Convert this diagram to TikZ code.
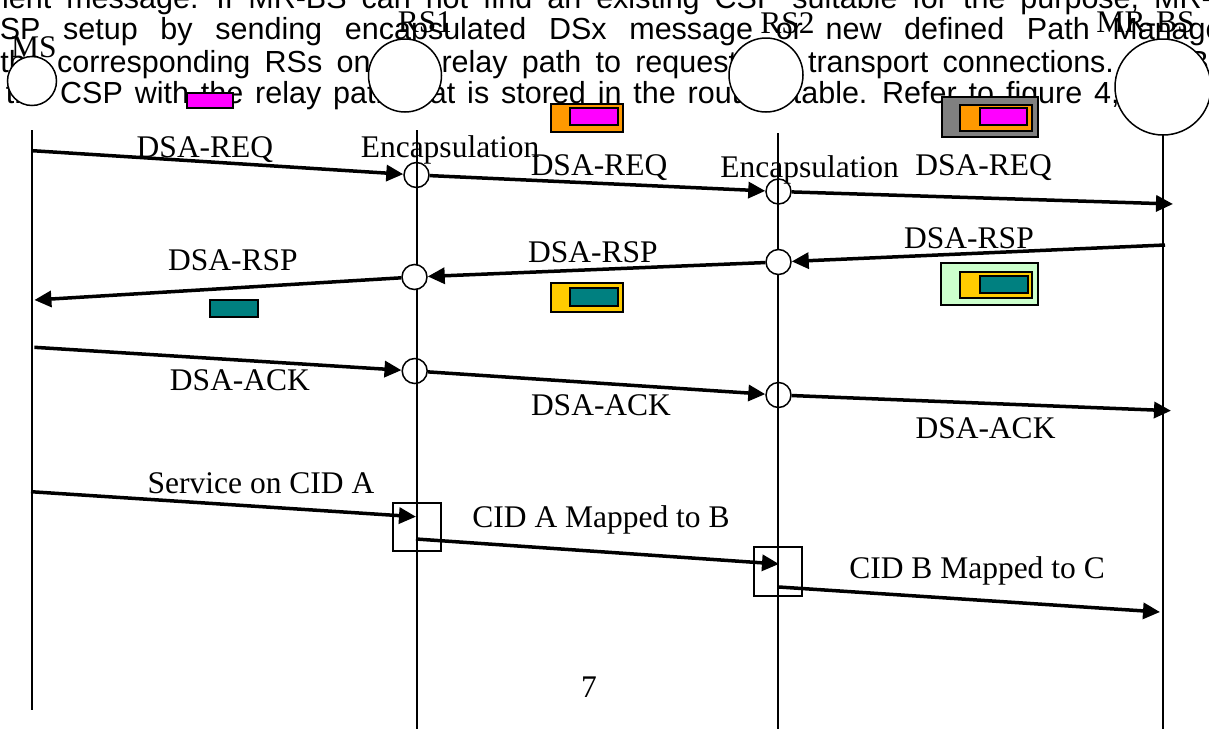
\documentclass[tikz,border=0pt]{standalone}
\usepackage{fontspec}
\setmainfont{Liberation Serif}
\newfontfamily\arialf{Liberation Sans}
\usetikzlibrary{arrows.meta}
\definecolor{pinkc}{HTML}{FF00FF}
\definecolor{orangec}{HTML}{FF9900}
\definecolor{grayc}{HTML}{808080}
\definecolor{tealc}{HTML}{008080}
\definecolor{yellowc}{HTML}{FFCC00}
\definecolor{greenc}{HTML}{CCFFCC}
\tikzset{
  lbl/.style={font=\fontsize{31.5}{36}\selectfont, inner sep=0pt, anchor=base},
  bgtext/.style={font=\arialf\fontsize{30.5}{36}\selectfont, inner sep=0pt, anchor=base west},
  life/.style={line width=1.5pt},
  msg/.style={line width=3.5pt, -{Triangle[length=17pt,width=16pt]}},
  bigc/.style={circle, draw, line width=1.5pt, fill=white, inner sep=0pt},
  smallc/.style={circle, draw, line width=1.5pt, minimum size=25pt, inner sep=0pt},
  cbox/.style={draw, line width=1.5pt, inner sep=0pt},
  mapbox/.style={draw, line width=1.2pt, inner sep=0pt, minimum width=48pt, minimum height=48pt},
}
\begin{document}
\begin{tikzpicture}[x=1pt,y=-1pt]
\useasboundingbox (0,0) rectangle (1209,729);
\clip (0,0) rectangle (1209,729);
% background document text
\node[bgtext] (t1) at (2,8) {\spaceskip=15pt\relax ient message. If MR-BS can not find an existing CSP suitable for the purpose, MR-BS};
\node[bgtext] (t2) at (-22.4,39.5) {\spaceskip=22.7pt\relax CSP setup by sending encapsulated DSx message or new defined Path Management};
\node[bgtext] (t3) at (0.3,72) {\spaceskip=14.3pt\relax the corresponding RSs on the relay path to request the transport connections. MR-BS};
\node[bgtext] (t4) at (5.7,103.5) {\spaceskip=11.9pt\relax the CSP with the relay path that is stored in the routing table. Refer to figure 4,};
% lifelines
\coordinate (msTop) at (32,130);  \coordinate (msBot) at (32,710);
\coordinate (rs1Top) at (417,130); \coordinate (rs1Bot) at (417,729);
\coordinate (rs2Top) at (778,133); \coordinate (rs2Bot) at (778,729);
\coordinate (mrTop) at (1163,135); \coordinate (mrBot) at (1163,729);
\draw[life] (msTop) -- (msBot);
\draw[life] (rs1Top) -- (rs1Bot);
\draw[life] (rs2Top) -- (rs2Bot);
\draw[life] (mrTop) -- (mrBot);
% big circles
\node[bigc, minimum size=49pt] (ms) at (32,81) {};
\node[bigc, minimum size=73pt] (rs1) at (405,75.5) {};
\node[bigc, minimum size=74pt] (rs2) at (766,75) {};
\node[bigc, minimum size=96pt] (mrbs) at (1163,87) {};
% entity labels
\node[lbl] (lms) at (34,57) {MS};
\node[lbl] (lrs1) at (425,32) {RS1};
\node[lbl] (lrs2) at (787.5,33) {RS2};
\node[lbl] (lmr) at (1145.5,32) {MR-BS};
% small circles
\node[smallc] (r1a) at (416.5,175) {};
\node[smallc] (r2a) at (778.5,191.5) {};
\node[smallc, fill=white] (r1b) at (414.5,277) {};
\node[smallc, fill=white] (r2b) at (778.5,262) {};
\node[smallc] (r1c) at (414.7,371) {};
\node[smallc] (r2c) at (778.5,395) {};
% row 1: DSA-REQ
\coordinate (a1) at (32.5,150.7);
\coordinate (m3) at (1173,204);
\draw[msg] (a1) -- (r1a);
\draw[msg] (r1a) -- (r2a);
\draw[msg] (r2a) -- (m3);
% row 2: DSA-RSP
\coordinate (m4) at (1165,245);
\coordinate (a6) at (34.4,300);
\draw[msg] (m4) -- (r2b);
\draw[msg] (r2b) -- (r1b);
\draw[msg] (r1b) -- (a6);
% row 3: DSA-ACK
\coordinate (a7) at (34.4,347.3);
\coordinate (m9) at (1171,410.7);
\draw[msg] (a7) -- (r1c);
\draw[msg] (r1c) -- (r2c);
\draw[msg] (r2c) -- (m9);
% row 4: service
\node[mapbox] (b1) at (417,527) {};
\node[mapbox, minimum height=49pt] (b2) at (778,571.5) {};
\coordinate (a10) at (31,491.7);
\coordinate (b1in) at (416,516.7);
\coordinate (b1out) at (416,539);
\coordinate (b2in) at (779,564);
\coordinate (b2out) at (779,587);
\coordinate (m12) at (1160,612);
\draw[msg] (a10) -- (b1in);
\draw[msg] (b1out) -- (b2in);
\draw[msg] (b2out) -- (m12);
% message labels
\node[lbl] (l1) at (205,157) {DSA-REQ};
\node[lbl] (l2) at (450,157) {Encapsulation};
\node[lbl] (l3) at (599,175) {DSA-REQ};
\node[lbl] (l4) at (809.5,177) {Encapsulation};
\node[lbl] (l5) at (983.5,175) {DSA-REQ};
\node[lbl] (l6) at (969,248) {DSA-RSP};
\node[lbl] (l7) at (593,262) {DSA-RSP};
\node[lbl] (l8) at (233,270) {DSA-RSP};
\node[lbl] (l9) at (240,390) {DSA-ACK};
\node[lbl] (l10) at (601,415) {DSA-ACK};
\node[lbl] (l11) at (985.5,438) {DSA-ACK};
\node[lbl] (l12) at (261,493) {Service on CID A};
\node[lbl] (l13) at (601,527) {CID A Mapped to B};
\node[lbl] (l14) at (977,578) {CID B Mapped to C};
\node[lbl] (pg) at (589,697) {7};
% coloured packet boxes
\node[cbox, fill=pinkc, minimum width=46pt, minimum height=15pt] (p1) at (210,100.5) {};
\node[cbox, fill=orangec, minimum width=72pt, minimum height=28pt] (o1) at (587,118) {};
\node[cbox, fill=pinkc, minimum width=48pt, minimum height=17pt] (p2) at (594,116.5) {};
\node[cbox, fill=grayc, minimum width=96pt, minimum height=40pt] (g1) at (990,117) {};
\node[cbox, fill=orangec, minimum width=72pt, minimum height=26pt] (o2) at (996,118) {};
\node[cbox, fill=pinkc, minimum width=47pt, minimum height=17pt] (p3) at (1003.5,116.5) {};
\node[cbox, fill=tealc, minimum width=48pt, minimum height=17pt] (tl1) at (234,308.5) {};
\node[cbox, fill=yellowc, minimum width=72pt, minimum height=29pt] (y1) at (587,297.5) {};
\node[cbox, fill=tealc, minimum width=48pt, minimum height=18pt] (tl2) at (594,297) {};
\node[cbox, fill=greenc, minimum width=97pt, minimum height=42pt] (gr1) at (989.5,284) {};
\node[cbox, fill=yellowc, minimum width=72pt, minimum height=26pt] (y2) at (996,285) {};
\node[cbox, fill=tealc, minimum width=48pt, minimum height=17pt] (tl3) at (1004,284.5) {};
\end{tikzpicture}
\end{document}
